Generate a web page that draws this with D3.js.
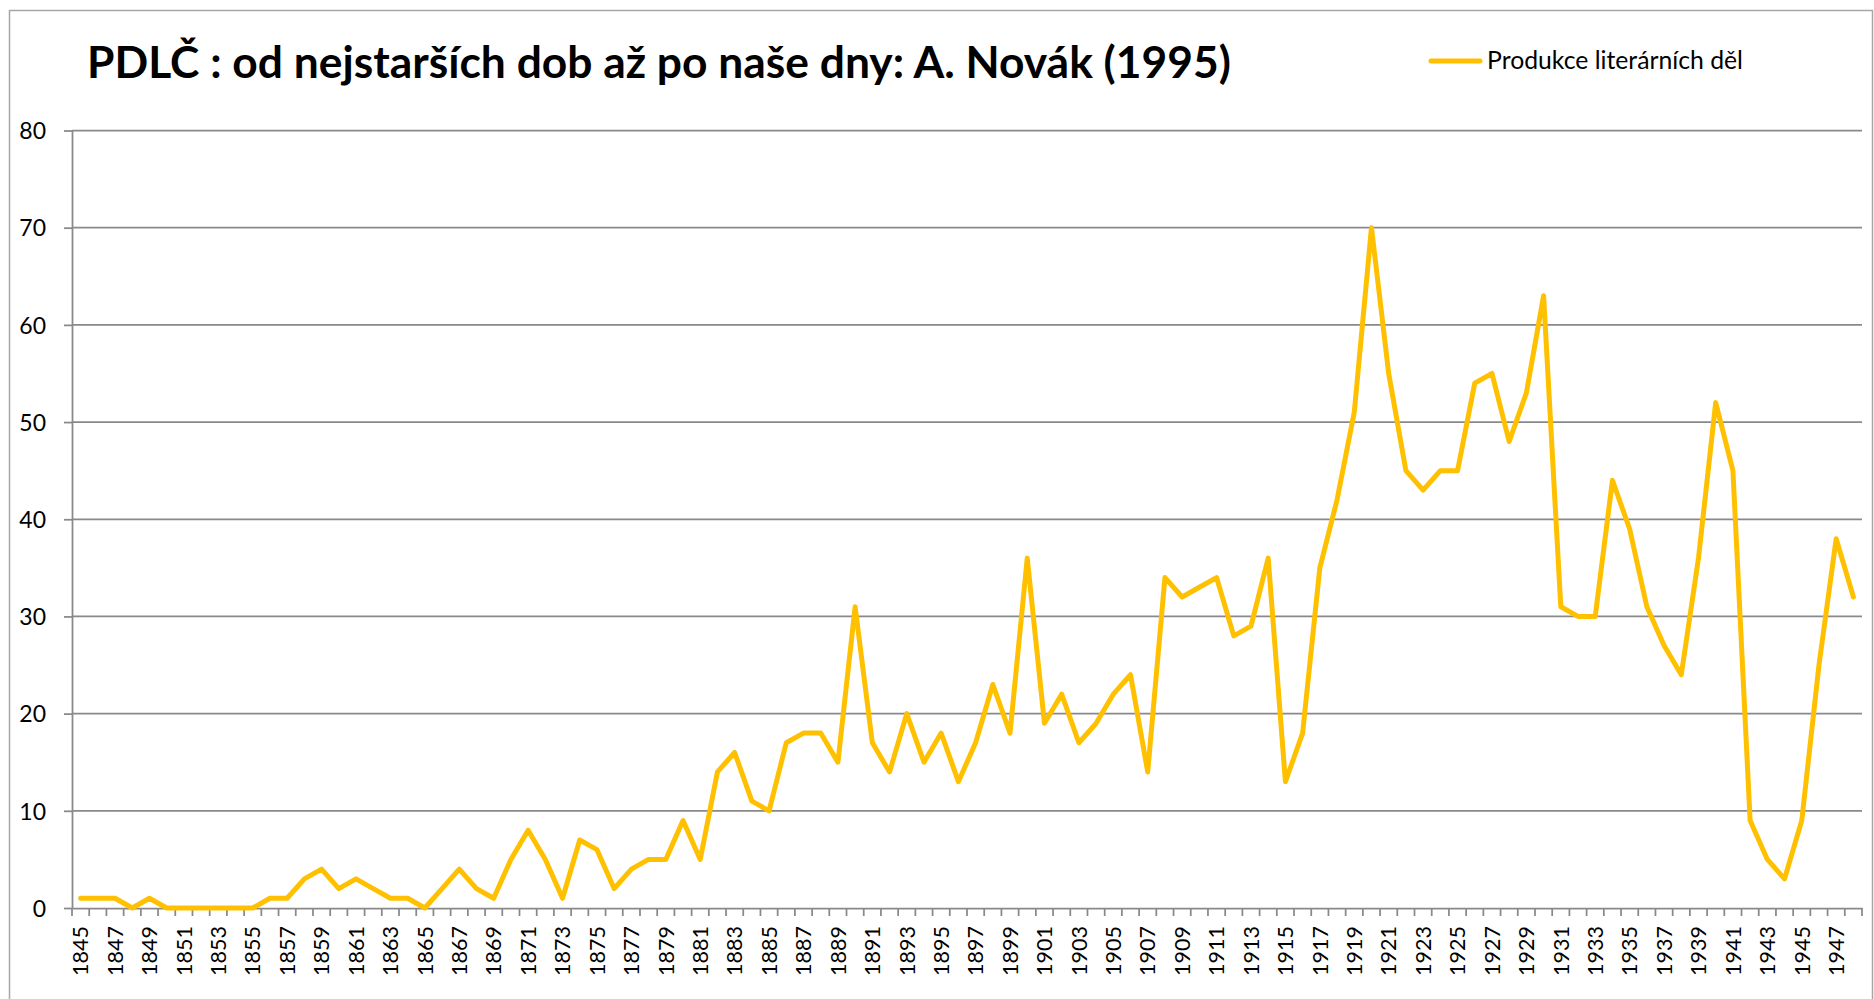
<!DOCTYPE html>
<html>
<head>
<meta charset="utf-8">
<script src="https://cdn.jsdelivr.net/npm/d3@7"></script>
<style>
    body { margin: 0; background: #ffffff; }
    svg { display: block; }
    text { font-family: Lato, 'Open Sans', sans-serif; fill: #000000; }
</style>
</head>
<body>
<svg id="chart" width="1874" height="999"></svg>
<script>

var title = 'PDLČ : od nejstarších dob až po naše dny: A. Novák (1995)'
var seriesName = 'Produkce literárních děl'

var years = d3.range(1845, 1949)

var works = [
    1, 1, 1, 0, 1, 0, 0, 0, 0, 0,            // 1845-1854
    0, 1, 1, 3, 4, 2, 3, 2, 1, 1,            // 1855-1864
    0, 2, 4, 2, 1, 5, 8, 5, 1, 7,            // 1865-1874
    6, 2, 4, 5, 5, 9, 5, 14, 16, 11,         // 1875-1884
    10, 17, 18, 18, 15, 31, 17, 14, 20, 15,  // 1885-1894
    18, 13, 17, 23, 18, 36, 19, 22, 17, 19,  // 1895-1904
    22, 24, 14, 34, 32, 33, 34, 28, 29, 36,  // 1905-1914
    13, 18, 35, 42, 51, 70, 55, 45, 43, 45,  // 1915-1924
    45, 54, 55, 48, 53, 63, 31, 30, 30, 44,  // 1925-1934
    39, 31, 27, 24, 36, 52, 45, 9, 5, 3,     // 1935-1944
    9, 25, 38, 32                            // 1945-1948
]

var yTicks = [0, 10, 20, 30, 40, 50, 60, 70, 80]

var layout = {
    left: 72,
    right: 1862,
    top: 130.5,
    bottom: 908,
    grid: '#898989',
    line: '#ffc000'
}

var svg = d3.select('#chart')

// outer chart border, the bottom edge runs off the picture
svg.append('rect')
    .attr('x', 9.5)
    .attr('y', 10.5)
    .attr('width', 1863)
    .attr('height', 1000)
    .attr('fill', 'none')
    .attr('stroke', '#a6a6a6')
    .attr('stroke-width', 1.5)

var xScale = d3.scaleBand()
    .domain(years)
    .range([layout.left, layout.right])
    .padding(0)

var yScale = d3.scaleLinear()
    .domain([0, 80])
    .range([layout.bottom, layout.top])

// grid
svg.append('g')
    .attr('id', 'grid')
    .selectAll('line')
    .data(yTicks.filter(function (d) { return d !== 0 }))
    .enter()
    .append('line')
    .attr('x1', layout.left)
    .attr('x2', layout.right)
    .attr('y1', yScale)
    .attr('y2', yScale)
    .attr('stroke', layout.grid)
    .attr('stroke-width', 1.75)

// y axis
var yAxis = d3.axisLeft(yScale)
    .tickValues(yTicks)
    .tickSize(8)
    .tickSizeOuter(0)
    .tickPadding(18)

var yAxisElement = svg.append('g')
    .attr('id', 'y-axis')
    .attr('transform', 'translate(' + layout.left + ', 0)')
    .call(yAxis)

yAxisElement.select('.domain')
    .attr('stroke', layout.grid)
    .attr('stroke-width', 1.75)

yAxisElement.selectAll('.tick line')
    .attr('stroke', layout.grid)
    .attr('stroke-width', 1.75)

yAxisElement.selectAll('.tick text')
    .attr('font-family', null)
    .attr('font-size', '23px')
    .attr('dy', '0.36em')

// x axis, ticks sit between categories like a spreadsheet chart
var xAxis = d3.axisBottom(xScale)
    .tickValues(years.filter(function (_, i) { return i % 2 === 0 }))
    .tickSize(0)
    .tickSizeOuter(0)
    .tickFormat(d3.format('d'))

var xAxisElement = svg.append('g')
    .attr('id', 'x-axis')
    .attr('transform', 'translate(0, ' + layout.bottom + ')')
    .call(xAxis)

xAxisElement.select('.domain')
    .attr('stroke', layout.grid)
    .attr('stroke-width', 1.75)

xAxisElement.selectAll('.tick text')
    .attr('font-family', null)
    .attr('font-size', '21.5px')
    .attr('text-anchor', 'end')
    .attr('transform', 'rotate(-90)')
    .attr('x', -18)
    .attr('y', 0)
    .attr('dy', '0.36em')

svg.append('g')
    .attr('id', 'x-ticks')
    .selectAll('line')
    .data(years.concat([null]))
    .enter()
    .append('line')
    .attr('x1', function (d) { return d === null ? xScale.range()[1] : xScale(d) })
    .attr('x2', function (d) { return d === null ? xScale.range()[1] : xScale(d) })
    .attr('y1', layout.bottom)
    .attr('y2', layout.bottom + 8)
    .attr('stroke', layout.grid)
    .attr('stroke-width', 1.75)

// series
var line = d3.line()
    .x(function (d, i) { return xScale(years[i]) + xScale.bandwidth() / 2 })
    .y(function (d) { return yScale(d) })

svg.append('path')
    .datum(works)
    .attr('d', line)
    .attr('fill', 'none')
    .attr('stroke', layout.line)
    .attr('stroke-width', 5)
    .attr('stroke-linejoin', 'round')
    .attr('stroke-linecap', 'round')

// title, sized to the width it takes in the original
var titleText = svg.append('text')
    .attr('x', 87)
    .attr('y', 78)
    .attr('font-size', '42px')
    .attr('font-weight', 'bold')
    .text(title)
titleText.attr('font-size', (42 * 1144 / titleText.node().getComputedTextLength()) + 'px')

// legend
var legend = svg.append('g')
    .attr('id', 'legend')

legend.append('line')
    .attr('x1', 1431)
    .attr('x2', 1480)
    .attr('y1', 61)
    .attr('y2', 61)
    .attr('stroke', layout.line)
    .attr('stroke-width', 5)
    .attr('stroke-linecap', 'round')

var legendText = legend.append('text')
    .attr('x', 1487)
    .attr('y', 68.5)
    .attr('font-size', '22px')
    .text(seriesName)
legendText.attr('font-size', (22 * 256 / legendText.node().getComputedTextLength()) + 'px')

</script>
</body>
</html>
